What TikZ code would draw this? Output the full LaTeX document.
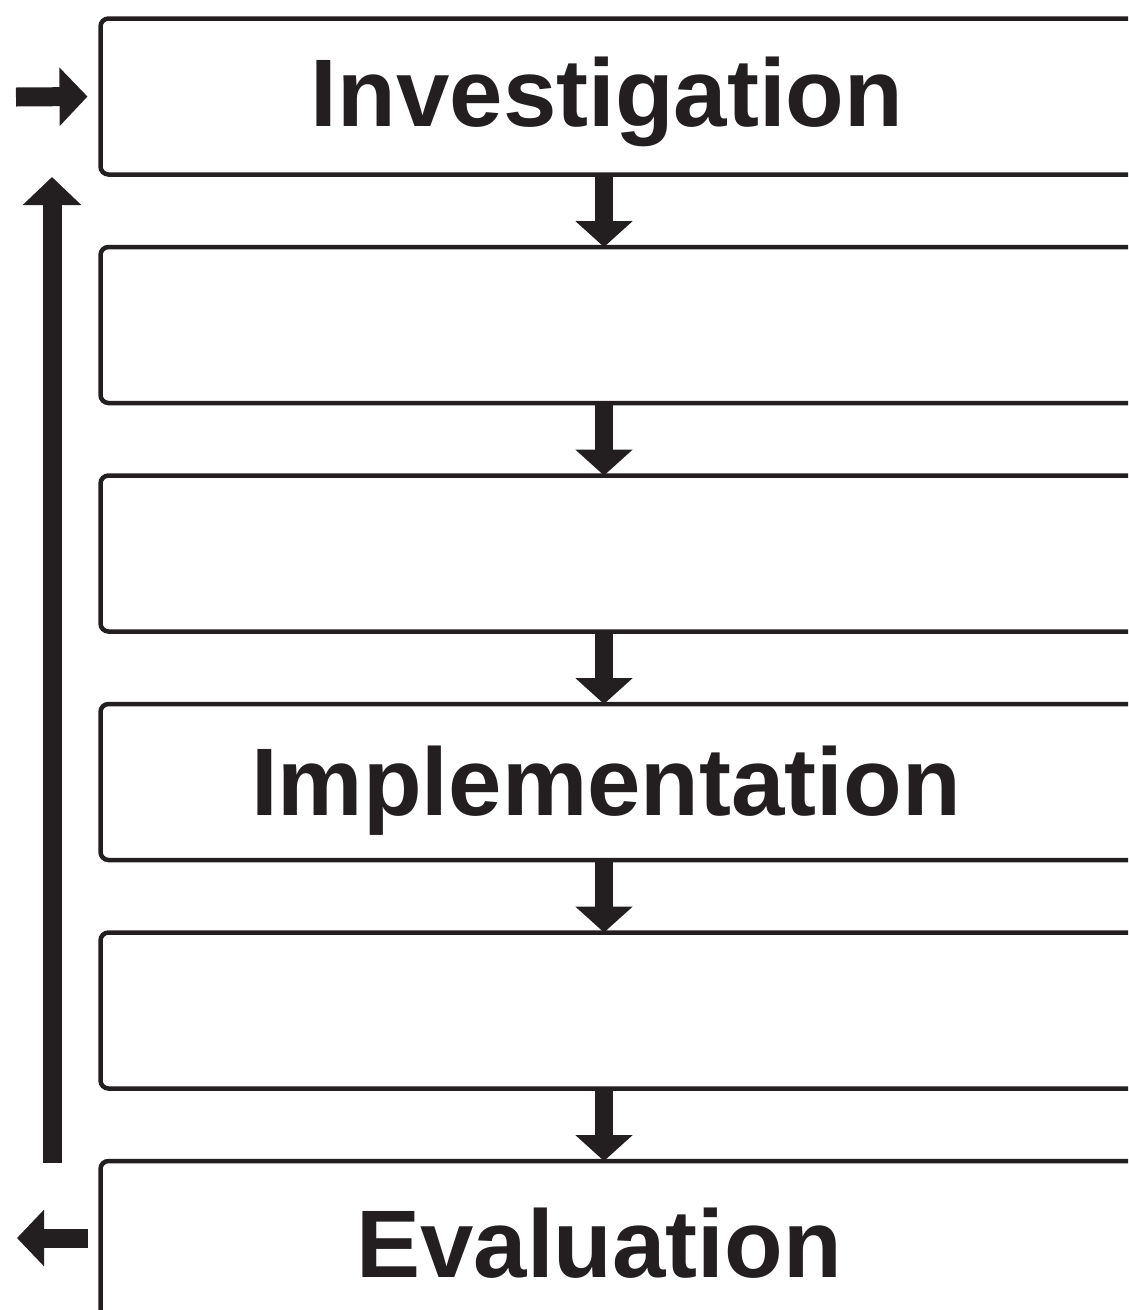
\documentclass[tikz,border=0pt]{standalone}
\usepackage{fontspec}
\setmainfont{Liberation Sans}
\usetikzlibrary{arrows.meta}
\definecolor{inkdark}{HTML}{231F20}
\begin{document}
\begin{tikzpicture}[x=1pt,y=-1pt,
  stage/.style={draw=inkdark, line width=4.5pt, rounded corners=8pt,
    minimum width=1150pt, minimum height=156pt, anchor=north west,
    inner sep=0pt, outer sep=0pt},
  stagelabel/.style={text=inkdark, font=\fontsize{96}{110}\selectfont\bfseries,
    anchor=base, inner sep=0pt},
  flow/.style={draw=inkdark, line width=18pt, -{Triangle[width=56pt,length=26pt]}}]
\useasboundingbox (0,0) rectangle (1128,1310);
\clip (0,0) rectangle (1128,1310);

% Stage boxes
\node[stage] (invest) at (100.5,18.5) {};
\node[stage] (stageb) at (100.5,247) {};
\node[stage] (stagec) at (100.5,475.5) {};
\node[stage] (implement) at (100.5,704) {};
\node[stage] (stagee) at (100.5,932.5) {};
\node[stage] (evaluate) at (100.5,1161) {};

% Stage names
\node[stagelabel] (investtext) at (607,126) {Investigation};
\node[stagelabel] (implementtext) at (606,815) {Implementation};
\node[stagelabel] (evaluatetext) at (599,1277) {Evaluation};

% Arrows between stages
\draw[flow] (604,0 |- invest.south) -- (604,0 |- stageb.north);
\draw[flow] (604,0 |- stageb.south) -- (604,0 |- stagec.north);
\draw[flow] (604,0 |- stagec.south) -- (604,0 |- implement.north);
\draw[flow] (604,0 |- implement.south) -- (604,0 |- stagee.north);
\draw[flow] (604,0 |- stagee.south) -- (604,0 |- evaluate.north);

% Loop back up the left side
\coordinate (loopstart) at (52,1163);
\coordinate (looptip) at (52,177);
\draw[flow, line width=19pt, -{Triangle[width=57pt,length=28pt]}] (loopstart) -- (looptip);

% Way in and way out
\coordinate (entry) at (16,97);
\coordinate (entrytip) at ([xshift=-13pt]invest.west);
\draw[flow, line width=19pt, -{Triangle[width=57pt,length=28pt]}] (entry) -- (entrytip);
\coordinate (exitstart) at ([xshift=-13pt]evaluate.west |- 0,1238);
\coordinate (exittip) at (17,1238);
\draw[flow, line width=19pt, -{Triangle[width=55pt,length=27pt]}] (exitstart) -- (exittip);
\end{tikzpicture}
\end{document}
